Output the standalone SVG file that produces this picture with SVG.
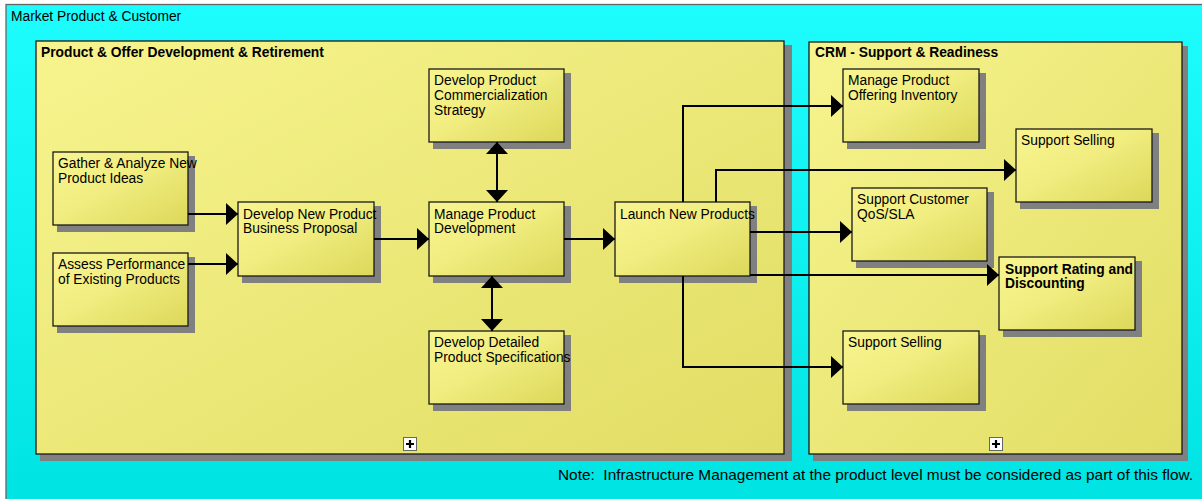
<svg xmlns="http://www.w3.org/2000/svg" width="1202" height="499" viewBox="0 0 1202 499">
  <defs>
    <linearGradient id="bg" x1="0" y1="0" x2="0" y2="1">
      <stop offset="0" stop-color="#1efdfd"/>
      <stop offset="1" stop-color="#00e3e3"/>
    </linearGradient>
    <linearGradient id="panel" x1="0" y1="0" x2="1" y2="1">
      <stop offset="0" stop-color="#f7f48e"/>
      <stop offset="1" stop-color="#e1dd64"/>
    </linearGradient>
    <linearGradient id="card" x1="0" y1="0" x2="1" y2="1">
      <stop offset="0" stop-color="#f8f590"/>
      <stop offset="0.45" stop-color="#f1ed80"/>
      <stop offset="1" stop-color="#dcd85a"/>
    </linearGradient>
    <marker id="arrow" markerUnits="userSpaceOnUse" markerWidth="12" markerHeight="22" viewBox="0 0 12 22" refX="12" refY="11" orient="auto-start-reverse">
      <path d="M0,0 L12,11 L0,22 Z" fill="#000"/>
    </marker>
  </defs>
  <style>
    text { font-family: "Liberation Sans", Arial, sans-serif; font-size: 13.8px; fill: #000; }
    .title { font-weight: bold; }
    .note { font-size: 15px; white-space: pre; }
    .shadow { fill: #808080; }
    .panel { fill: url(#panel); stroke: #1a1a1a; stroke-width: 1.3; }
    .box { fill: url(#card); stroke: #1a1a1a; stroke-width: 1.3; }
    .link { fill: none; stroke: #000; stroke-width: 2; marker-end: url(#arrow); }
    .both { marker-start: url(#arrow); }
    .expand { fill: #fff; stroke: #666; stroke-width: 1; }
    .cross { stroke: #000; stroke-width: 2.2; }
  </style>

  <!-- outer area -->
  <g id="market">
    <rect x="0" y="0" width="1202" height="499" fill="#fff"/>
    <rect x="6" y="4.5" width="1200" height="500" fill="url(#bg)" stroke="#666" stroke-width="1.3"/>
    <text x="11" y="21">Market Product &amp; Customer</text>
    <text class="note" x="558" y="480" textLength="635" lengthAdjust="spacingAndGlyphs" xml:space="preserve">Note:  Infrastructure Management at the product level must be considered as part of this flow.</text>
  </g>

  <!-- left container -->
  <g id="product-offer">
    <rect class="shadow" x="40" y="45" width="752" height="416"/>
    <rect class="panel" x="36" y="41" width="748" height="413"/>
    <text class="title" x="41" y="57">Product &amp; Offer Development &amp; Retirement</text>
    <rect class="expand" x="403.5" y="437.5" width="13" height="13"/>
    <path class="cross" d="M410,440 V448 M406,444 H414"/>
  </g>

  <!-- right container -->
  <g id="crm">
    <rect class="shadow" x="813" y="46" width="375" height="415"/>
    <rect class="panel" x="809" y="42" width="373" height="412"/>
    <text class="title" x="815" y="57">CRM - Support &amp; Readiness</text>
    <rect class="expand" x="989.5" y="437.5" width="13" height="13"/>
    <path class="cross" d="M996,440 V448 M992,444 H1000"/>
  </g>

  <g id="gather">
    <rect class="shadow" x="57" y="156" width="138" height="76"/>
    <rect class="box" x="53" y="152" width="135" height="73"/>
    <text x="58" y="168">Gather &amp; Analyze New</text>
    <text x="58" y="182.5">Product Ideas</text>
  </g>

  <g id="assess">
    <rect class="shadow" x="57" y="257" width="138" height="76"/>
    <rect class="box" x="53" y="253" width="135" height="73"/>
    <text x="58" y="269">Assess Performance</text>
    <text x="58" y="283.5">of Existing Products</text>
  </g>

  <g id="proposal">
    <rect class="shadow" x="242" y="206" width="139" height="77"/>
    <rect class="box" x="238" y="202" width="136" height="74"/>
    <text x="243" y="218.5">Develop New Product</text>
    <text x="243" y="233">Business Proposal</text>
  </g>

  <g id="commercialization">
    <rect class="shadow" x="433" y="73" width="138" height="76"/>
    <rect class="box" x="429" y="69" width="135" height="73"/>
    <text x="434" y="85">Develop Product</text>
    <text x="434" y="100">Commercialization</text>
    <text x="434" y="115">Strategy</text>
  </g>

  <g id="manage-development">
    <rect class="shadow" x="433" y="206" width="138" height="77"/>
    <rect class="box" x="429" y="202" width="135" height="74"/>
    <text x="434" y="218.5">Manage Product</text>
    <text x="434" y="233">Development</text>
  </g>

  <g id="specifications">
    <rect class="shadow" x="433" y="335" width="138" height="76"/>
    <rect class="box" x="429" y="331" width="135" height="73"/>
    <text x="434" y="347">Develop Detailed</text>
    <text x="434" y="361.5">Product Specifications</text>
  </g>

  <g id="launch">
    <rect class="shadow" x="619" y="206" width="138" height="77"/>
    <rect class="box" x="615" y="202" width="135" height="74"/>
    <text x="620" y="218.5">Launch New Products</text>
  </g>

  <g id="offering-inventory">
    <rect class="shadow" x="847" y="73" width="139" height="76"/>
    <rect class="box" x="843" y="69" width="136" height="73"/>
    <text x="848" y="85">Manage Product</text>
    <text x="848" y="99.5">Offering Inventory</text>
  </g>

  <g id="selling-upper">
    <rect class="shadow" x="1020" y="133" width="139" height="76"/>
    <rect class="box" x="1016" y="129" width="136" height="73"/>
    <text x="1021" y="145">Support Selling</text>
  </g>

  <g id="qos-sla">
    <rect class="shadow" x="856" y="192" width="138" height="76"/>
    <rect class="box" x="852" y="188" width="135" height="73"/>
    <text x="857" y="204">Support Customer</text>
    <text x="857" y="218.5">QoS/SLA</text>
  </g>

  <g id="rating-discounting">
    <rect class="shadow" x="1003" y="261" width="139" height="76"/>
    <rect class="box" x="999" y="257" width="136" height="73"/>
    <text class="title" x="1005" y="273.5">Support Rating and</text>
    <text class="title" x="1005" y="287.5">Discounting</text>
  </g>

  <g id="selling-lower">
    <rect class="shadow" x="847" y="335" width="139" height="76"/>
    <rect class="box" x="843" y="331" width="136" height="73"/>
    <text x="848" y="347">Support Selling</text>
  </g>

  <!-- connectors -->
  <g id="connectors">
    <path class="link" d="M188,214 H238"/>
    <path class="link" d="M188,264 H238"/>
    <path class="link" d="M374,239 H429"/>
    <path class="link" d="M564,239 H615"/>
    <path class="link both" d="M497,142 V202"/>
    <path class="link both" d="M492,276 V331"/>
    <path class="link" d="M683,202 V106 H843"/>
    <path class="link" d="M716,202 V170 H1016"/>
    <path class="link" d="M750,232 H852"/>
    <path class="link" d="M750,275 H999"/>
    <path class="link" d="M683,276 V367 H843"/>
  </g>
</svg>
